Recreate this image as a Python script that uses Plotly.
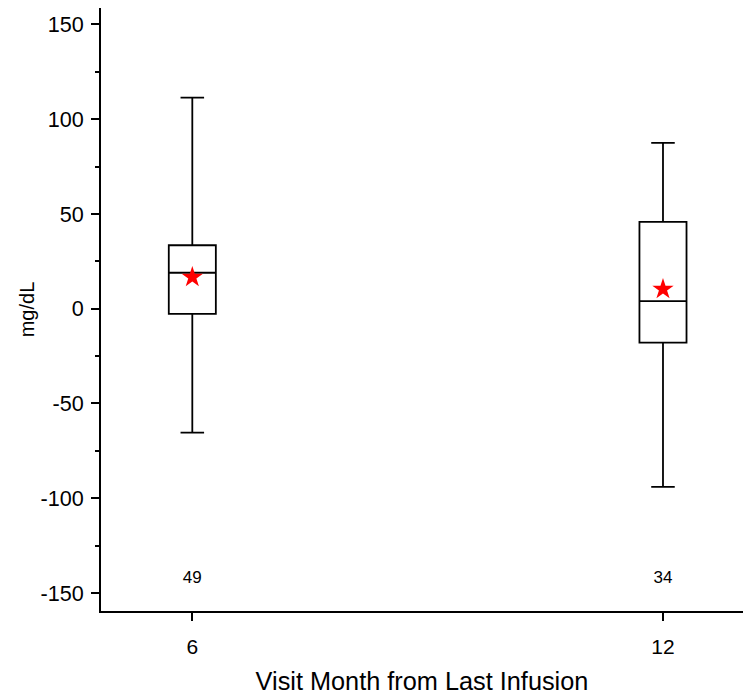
import plotly.graph_objects as go

# ---- data ----
visit_months = ["6", "12"]
upper_whisker = [111.4, 87.5]
q3_values = [33.5, 45.8]
median_values = [19.0, 4.0]
q1_values = [-2.7, -17.9]
lower_whisker = [-65.4, -94.0]
mean_values = [16.6, 10.3]
n_counts = ["49", "34"]
n_label_y = [-142.5, -142.5]

y_tick_vals = [-150, -100, -50, 0, 50, 100, 150]
y_tick_text = ["-150", "-100", "-50", "0", "50", "100", "150"]

FONT = "Liberation Sans, Arial, sans-serif"

fig = go.Figure()

fig.add_trace(go.Box(
    x=visit_months,
    q1=q1_values,
    median=median_values,
    q3=q3_values,
    lowerfence=lower_whisker,
    upperfence=upper_whisker,
    width=0.1,
    whiskerwidth=0.5,
    fillcolor="rgba(255,255,255,0)",
    line=dict(color="black", width=1.8),
    boxpoints=False,
    hoverinfo="skip",
    showlegend=False,
))

fig.add_trace(go.Scatter(
    x=visit_months,
    y=mean_values,
    mode="markers",
    marker=dict(symbol="star", size=16, color="red", line=dict(width=0)),
    showlegend=False,
))

fig.add_trace(go.Scatter(
    x=visit_months,
    y=n_label_y,
    mode="text",
    text=n_counts,
    textposition="middle center",
    textfont=dict(family=FONT, size=17, color="black"),
    showlegend=False,
))

fig.update_layout(
    width=743,
    height=698,
    margin=dict(l=101, r=0, t=8, b=87),
    paper_bgcolor="white",
    plot_bgcolor="white",
    font=dict(family=FONT, color="black"),
)

fig.update_xaxes(
    type="category",
    categoryorder="array",
    categoryarray=visit_months,
    range=[-0.194, 1.17],
    showline=True,
    linecolor="black",
    linewidth=2,
    showgrid=False,
    zeroline=False,
    ticks="outside",
    ticklen=8,
    tickwidth=1.5,
    tickcolor="black",
    tickfont=dict(family=FONT, size=21),
    ticklabelstandoff=8,
    title=dict(text="Visit Month from Last Infusion", font=dict(family=FONT, size=25.3), standoff=15),
)

fig.update_yaxes(
    range=[-159.5, 158.7],
    tickvals=y_tick_vals,
    ticktext=y_tick_text,
    showline=True,
    linecolor="black",
    linewidth=2,
    showgrid=False,
    zeroline=False,
    ticks="outside",
    ticklen=8,
    tickwidth=1.5,
    tickcolor="black",
    tickfont=dict(family=FONT, size=21.6),
    ticklabelstandoff=3,
    minor=dict(dtick=25, tick0=0, ticks="outside", ticklen=4, tickwidth=1.5, tickcolor="black", showgrid=False),
    title=dict(text="mg/dL", font=dict(family=FONT, size=20), standoff=0),
)

fig.write_html(
    "out.html",
    config={"displayModeBar": False},
    post_script="document.body.style.margin='0';document.body.style.overflow='hidden';",
)
